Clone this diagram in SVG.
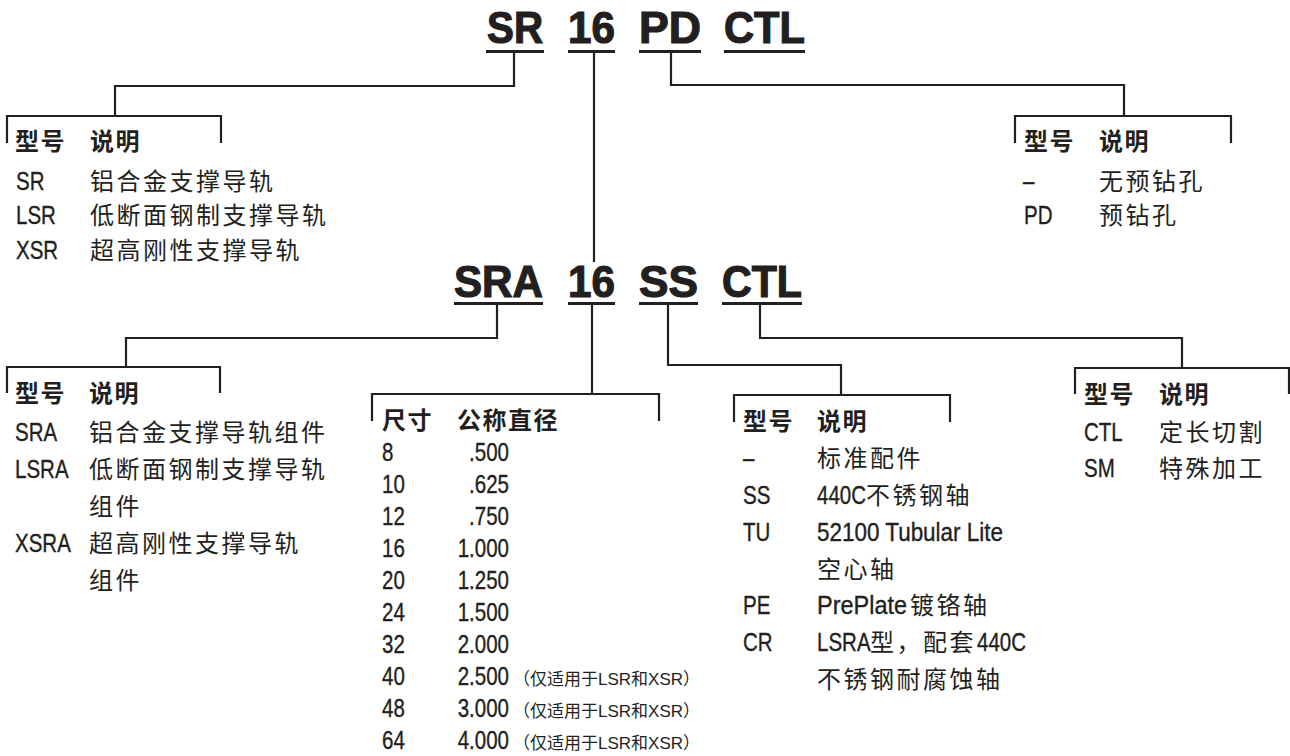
<svg xmlns="http://www.w3.org/2000/svg" width="1290" height="756" viewBox="0 0 1290 756">
<style>
.ln{fill:none;stroke:#231f20;stroke-width:2.2;stroke-linejoin:miter;stroke-linecap:butt}
.ul{fill:#231f20}
.ti{font-family:"Liberation Sans Narrow","Liberation Sans",sans-serif;font-weight:bold;font-size:44px;fill:#231f20;stroke:#231f20;stroke-width:1.2px}
.t{font-family:"Liberation Sans",sans-serif;font-size:25px;fill:#231f20;stroke:#231f20;stroke-width:0.35px}
.c{font-family:"Noto Sans CJK SC",sans-serif;font-size:24px;letter-spacing:2.5px;fill:#231f20}
.h{font-family:"Noto Sans CJK SC",sans-serif;font-size:24px;font-weight:bold;letter-spacing:1.5px;fill:#231f20}
.n{font-family:"Liberation Sans","Noto Sans CJK SC",sans-serif;font-size:17px;fill:#231f20}
.e{text-anchor:end}
</style>
<rect width="1290" height="756" fill="#ffffff"/>

<g id="connectors">
  <path class="ln" d="M514,53 V86 H115 V116"/>
  <path class="ln" d="M7,143 V116 H221 V143"/>
  <path class="ln" d="M671,53 V85 H1124 V116"/>
  <path class="ln" d="M1015,143 V116 H1231 V143"/>
  <path class="ln" d="M594,53 V262"/>
  <path class="ln" d="M497,305 V338 H126 V367"/>
  <path class="ln" d="M7,393 V367 H220 V393"/>
  <path class="ln" d="M592,305 V394"/>
  <path class="ln" d="M372,421 V394 H659 V421"/>
  <path class="ln" d="M668,305 V365 H841 V395"/>
  <path class="ln" d="M734,422 V395 H950 V422"/>
  <path class="ln" d="M760,305 V338 H1182 V368"/>
  <path class="ln" d="M1075,394 V368 H1289 V394"/>
</g>

<g id="title-sr16pdctl">
  <text class="ti" x="487" y="43" textLength="56" lengthAdjust="spacingAndGlyphs">SR</text>
  <text class="ti" x="568" y="43" textLength="47" lengthAdjust="spacingAndGlyphs">16</text>
  <text class="ti" x="639" y="43" textLength="62" lengthAdjust="spacingAndGlyphs">PD</text>
  <text class="ti" x="724" y="43" textLength="81" lengthAdjust="spacingAndGlyphs">CTL</text>
  <rect class="ul" x="486" y="50" width="58" height="3"/>
  <rect class="ul" x="568" y="50" width="47" height="3"/>
  <rect class="ul" x="639" y="50" width="62" height="3"/>
  <rect class="ul" x="724" y="50" width="81" height="3"/>
</g>

<g id="title-sra16ssctl">
  <text class="ti" x="454" y="297" textLength="89" lengthAdjust="spacingAndGlyphs">SRA</text>
  <text class="ti" x="568" y="297" textLength="47" lengthAdjust="spacingAndGlyphs">16</text>
  <text class="ti" x="639" y="297" textLength="59" lengthAdjust="spacingAndGlyphs">SS</text>
  <text class="ti" x="722" y="297" textLength="80" lengthAdjust="spacingAndGlyphs">CTL</text>
  <rect class="ul" x="454" y="302" width="89" height="3"/>
  <rect class="ul" x="568" y="302" width="47" height="3"/>
  <rect class="ul" x="639" y="302" width="59" height="3"/>
  <rect class="ul" x="722" y="302" width="80" height="3"/>
</g>

<g id="node-rail-type">
  <text class="h" x="15" y="150">型号</text>
  <text class="h" x="90" y="150">说明</text>
  <text class="t" transform="translate(16,189.5) scale(0.82,1)">SR</text>
  <text class="c" x="90" y="189.5">铝合金支撑导轨</text>
  <text class="t" transform="translate(16,224) scale(0.82,1)">LSR</text>
  <text class="c" x="90" y="224">低断面钢制支撑导轨</text>
  <text class="t" transform="translate(16,258.5) scale(0.82,1)">XSR</text>
  <text class="c" x="90" y="258.5">超高刚性支撑导轨</text>
</g>

<g id="node-predrill">
  <text class="h" x="1024" y="150">型号</text>
  <text class="h" x="1099" y="150">说明</text>
  <text class="t" transform="translate(1023,189.5) scale(0.82,1)">–</text>
  <text class="c" x="1099" y="189.5">无预钻孔</text>
  <text class="t" transform="translate(1024,224) scale(0.82,1)">PD</text>
  <text class="c" x="1099" y="224">预钻孔</text>
</g>

<g id="node-assembly-type">
  <text class="h" x="15" y="402">型号</text>
  <text class="h" x="89" y="402">说明</text>
  <text class="t" transform="translate(15,441) scale(0.82,1)">SRA</text>
  <text class="c" x="89" y="441">铝合金支撑导轨组件</text>
  <text class="t" transform="translate(15,478) scale(0.82,1)">LSRA</text>
  <text class="c" x="89" y="478">低断面钢制支撑导轨</text>
  <text class="c" x="89" y="515">组件</text>
  <text class="t" transform="translate(15,552) scale(0.82,1)">XSRA</text>
  <text class="c" x="89" y="552">超高刚性支撑导轨</text>
  <text class="c" x="89" y="589">组件</text>
</g>

<g id="node-size">
  <text class="h" x="382" y="429">尺寸</text>
  <text class="h" x="457" y="429">公称直径</text>
  <text class="t" transform="translate(382,461) scale(0.82,1)">8</text><text class="t e" transform="translate(509,461) scale(0.82,1)">.500</text>
  <text class="t" transform="translate(382,493) scale(0.82,1)">10</text><text class="t e" transform="translate(509,493) scale(0.82,1)">.625</text>
  <text class="t" transform="translate(382,525) scale(0.82,1)">12</text><text class="t e" transform="translate(509,525) scale(0.82,1)">.750</text>
  <text class="t" transform="translate(382,557) scale(0.82,1)">16</text><text class="t e" transform="translate(509,557) scale(0.82,1)">1.000</text>
  <text class="t" transform="translate(382,589) scale(0.82,1)">20</text><text class="t e" transform="translate(509,589) scale(0.82,1)">1.250</text>
  <text class="t" transform="translate(382,621) scale(0.82,1)">24</text><text class="t e" transform="translate(509,621) scale(0.82,1)">1.500</text>
  <text class="t" transform="translate(382,653) scale(0.82,1)">32</text><text class="t e" transform="translate(509,653) scale(0.82,1)">2.000</text>
  <text class="t" transform="translate(382,685) scale(0.82,1)">40</text><text class="t e" transform="translate(509,685) scale(0.82,1)">2.500</text>
  <text class="n" x="513" y="685">（仅适用于LSR和XSR）</text>
  <text class="t" transform="translate(382,717) scale(0.82,1)">48</text><text class="t e" transform="translate(509,717) scale(0.82,1)">3.000</text>
  <text class="n" x="513" y="717">（仅适用于LSR和XSR）</text>
  <text class="t" transform="translate(382,749) scale(0.82,1)">64</text><text class="t e" transform="translate(509,749) scale(0.82,1)">4.000</text>
  <text class="n" x="513" y="749">（仅适用于LSR和XSR）</text>
</g>

<g id="node-shaft">
  <text class="h" x="743" y="430">型号</text>
  <text class="h" x="817" y="430">说明</text>
  <text class="t" transform="translate(743,467) scale(0.82,1)">–</text>
  <text class="c" x="817" y="467">标准配件</text>
  <text class="t" transform="translate(743,504) scale(0.82,1)">SS</text>
  <text class="t" transform="translate(817,504) scale(0.82,1)">440C</text>
  <text class="c" x="866" y="504">不锈钢轴</text>
  <text class="t" transform="translate(743,541) scale(0.82,1)">TU</text>
  <text class="t" x="817" y="541" textLength="186" lengthAdjust="spacingAndGlyphs">52100 Tubular Lite</text>
  <text class="c" x="817" y="578">空心轴</text>
  <text class="t" transform="translate(743,614) scale(0.82,1)">PE</text>
  <text class="t" x="817" y="614" textLength="90" lengthAdjust="spacingAndGlyphs">PrePlate</text>
  <text class="c" x="910" y="614">镀铬轴</text>
  <text class="t" transform="translate(743,651) scale(0.82,1)">CR</text>
  <text class="t" transform="translate(817,651) scale(0.82,1)">LSRA</text>
  <text class="c" x="870" y="651">型，配套</text>
  <text class="t" transform="translate(977,651) scale(0.82,1)">440C</text>
  <text class="c" x="817" y="688">不锈钢耐腐蚀轴</text>
</g>

<g id="node-end-machining">
  <text class="h" x="1084" y="403">型号</text>
  <text class="h" x="1159" y="403">说明</text>
  <text class="t" transform="translate(1084,441) scale(0.82,1)">CTL</text>
  <text class="c" x="1159" y="441">定长切割</text>
  <text class="t" transform="translate(1084,477) scale(0.82,1)">SM</text>
  <text class="c" x="1159" y="477">特殊加工</text>
</g>
</svg>
